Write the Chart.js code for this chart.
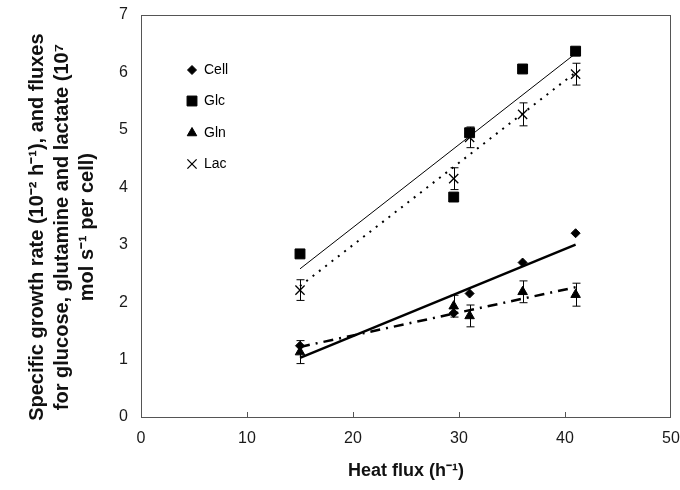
<!DOCTYPE html>
<html>
<head>
<meta charset="utf-8">
<script src="https://cdn.jsdelivr.net/npm/chart.js@4/dist/chart.umd.min.js"></script>
<style>
  html, body { margin: 0; padding: 0; background: #fff; }
  #wrap { width: 680px; height: 490px; }
</style>
</head>
<body>
<div id="wrap"><canvas id="chart" width="680" height="490"></canvas></div>
<script>
// data
const flux = [15, 29.5, 31, 36, 41];
const cell = [1.24, 1.81, 2.15, 2.69, 3.20];
const glc = [2.84, 3.83, 4.95, 6.06, 6.37];
const gln = [1.13, 1.93, 1.76, 2.18, 2.13];
const lac = [2.21, 4.15, 4.87, 5.27, 5.97];
const glnErr = [0.2, 0.19, 0.19, 0.19, 0.2];
const lacErr = [0.18, 0.19, 0.18, 0.2, 0.19];

// linear fits (end points)
const fitX = [15, 41];
const cellFit = [1.03, 3.0];
const glcFit = [2.58, 6.33];
const glnFit = [1.22, 2.26];
const lacFit = [2.28, 6.0];

const xTicks = [0, 10, 20, 30, 40, 50];
const legendItems = [
  { label: 'Cell', style: 'rectRot', r: 4.5 },
  { label: 'Glc', style: 'rect', r: 7 },
  { label: 'Gln', style: 'triangle', r: 5.5 },
  { label: 'Lac', style: 'crossRot', r: 6.5 },
];

const pts = (xs, ys) => xs.map((x, i) => ({ x: x, y: ys[i] }));

function markers(label, ys, style, r) {
  return {
    label: label, data: pts(flux, ys), showLine: false,
    pointStyle: style, pointRadius: r, pointHoverRadius: r,
    backgroundColor: '#000', borderColor: '#000', pointBorderWidth: style === 'crossRot' ? 1.3 : 1,
  };
}
function fit(ys, width, dash) {
  return {
    data: pts(fitX, ys), showLine: true, pointRadius: 0,
    borderColor: '#000', borderWidth: width, borderDash: dash, fill: false,
  };
}

const font = "'Liberation Sans', Arial, sans-serif";

const extras = {
  id: 'extras',
  afterDatasetsDraw(chart) {
    const { ctx, chartArea: a, scales: { x, y } } = chart;
    ctx.save();
    // frame
    ctx.strokeStyle = '#555';
    ctx.lineWidth = 1;
    ctx.strokeRect(a.left + 0.5, a.top + 0.5, a.right - a.left - 1, a.bottom - a.top);
    // inner ticks on x axis
    xTicks.slice(1, -1).forEach(v => {
      const px = Math.round(x.getPixelForValue(v)) + 0.5;
      ctx.beginPath(); ctx.moveTo(px, a.bottom); ctx.lineTo(px, a.bottom - 5); ctx.stroke();
    });
    // error bars
    ctx.strokeStyle = '#000';
    const bars = (ys, es) => ys.forEach((v, i) => {
      const px = Math.round(x.getPixelForValue(flux[i])) + 0.5;
      const top = y.getPixelForValue(v + es[i]);
      const bot = y.getPixelForValue(v - es[i]);
      ctx.beginPath();
      ctx.moveTo(px, top); ctx.lineTo(px, bot);
      ctx.moveTo(px - 4, top); ctx.lineTo(px + 4, top);
      ctx.moveTo(px - 4, bot); ctx.lineTo(px + 4, bot);
      ctx.stroke();
    });
    bars(lac, lacErr);
    bars(gln, glnErr);
    // legend
    ctx.fillStyle = '#000';
    ctx.strokeStyle = '#000';
    ctx.font = '14px ' + font;
    ctx.textBaseline = 'middle';
    const rows = [55, 86, 118, 149];
    legendItems.forEach((it, i) => {
      const ly = a.top + rows[i];
      const lx = a.left + 51;
      const bw = it.style === 'crossRot' ? 1.3 : 1;
      ctx.lineWidth = bw;
      Chart.helpers.drawPoint(ctx, { pointStyle: it.style, radius: it.r, rotation: 0, borderWidth: bw }, lx, ly);
      ctx.fillText(it.label, lx + 12, ly);
    });
    ctx.restore();
  }
};

const ctx = document.getElementById('chart').getContext('2d');
new Chart(ctx, {
  type: 'scatter',
  data: {
    datasets: [
      fit(glcFit, 1, []),
      fit(lacFit, 2, [2, 6]),
      fit(cellFit, 2.5, []),
      fit(glnFit, 2.5, [10, 6, 2, 6]),
      markers('Cell', cell, 'rectRot', 4.5),
      markers('Glc', glc, 'rect', 7),
      markers('Gln', gln, 'triangle', 5.5),
      markers('Lac', lac, 'crossRot', 6.5),
    ]
  },
  options: {
    responsive: false,
    animation: false,
    layout: { padding: { left: 0, right: 9, top: 15, bottom: 0 } },
    plugins: { legend: { display: false }, tooltip: { enabled: false } },
    scales: {
      x: {
        min: 0, max: 50,
        grid: { display: false, drawTicks: false },
        border: { display: false },
        afterBuildTicks: s => { s.ticks = xTicks.map(v => ({ value: v })); },
        afterFit: s => { s.height = 73; s.paddingLeft = 0; s.paddingRight = 0; },
        ticks: { color: '#1a1a1a', font: { family: font, size: 16 }, padding: 12 },
        title: { display: true, text: 'Heat flux (h⁻¹)', color: '#111', font: { family: font, size: 18, weight: 'bold' }, padding: { top: 4, bottom: 8 } },
      },
      y: {
        min: 0, max: 7,
        grid: { display: false, drawTicks: false },
        border: { display: false },
        afterFit: s => { s.width = 141; s.paddingTop = 0; s.paddingBottom = 0; },
        ticks: { stepSize: 1, color: '#1a1a1a', font: { family: font, size: 16 }, padding: 13 },
        title: {
          display: true,
          text: ['Specific growth rate (10⁻² h⁻¹), and fluxes    ', 'for glucose, glutamine and lactate (10⁷    ', 'mol s⁻¹ per cell)    '],
          color: '#111', font: { family: font, size: 20, weight: 'bold', lineHeight: 1.25 }, padding: { top: 25 },
        },
      },
    },
  },
  plugins: [extras],
});
</script>
</body>
</html>
